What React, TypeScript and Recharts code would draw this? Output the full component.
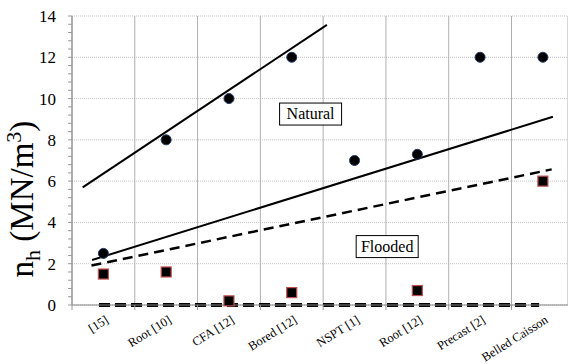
import {
  ComposedChart,
  Line,
  Scatter,
  XAxis,
  YAxis,
  CartesianGrid,
  ReferenceDot,
} from 'recharts'

const categories = ['[15]', 'Root [10]', 'CFA [12]', 'Bored [12]', 'NSPT [1]', 'Root [12]', 'Precast [2]', 'Belled Caisson']
const categoryPos = [0.5, 1.5, 2.5, 3.5, 4.5, 5.5, 6.5, 7.5]
const naturalValues = [2.5, 8, 10, 12, 7, 7.3, 12, 12]
const floodedValues: (number | null)[] = [1.5, 1.6, 0.2, 0.6, null, 0.7, null, 6]

// trend lines, [start, end]
const upperFitX = [0.17, 4.06]
const upperFitY = [5.7, 13.57]
const naturalFitX = [0.32, 7.66]
const naturalFitY = [2.18, 9.12]
const floodedFitX = [0.31, 7.64]
const floodedFitY = [1.91, 6.57]
const zeroFitX = [0.43, 7.44]
const zeroFitY = [0, 0]

const yTicks = [0, 2, 4, 6, 8, 10, 12, 14]
const minorTicks = Array.from({ length: 71 }, (_, i) => Math.round(i * 2) / 10)
const gridTicks = [0, 1, 2, 3, 4, 5, 6, 7]

const boxLabels = ['Natural', 'Flooded']
const boxX = [3.8, 5.02]
const boxY = [9.25, 2.83]

const FONT = 'Liberation Serif'
const fontStyle = { fontFamily: FONT }

const pts = (xs: number[], ys: (number | null)[]) =>
  xs.map((x, i) => ({ x, y: ys[i] })).filter((p) => p.y !== null)

const naturalData = pts(categoryPos, naturalValues)
const floodedData = pts(categoryPos, floodedValues)

const XTick = (props: any) => {
  const { x, y, payload } = props
  const i = categoryPos.indexOf(payload.value)
  return (
    <g transform={`translate(${x + 6},${y + 8})`}>
      <text textAnchor="end" transform="rotate(-32)" fontSize={12.5} style={fontStyle} fill="#000">
        {categories[i]}
      </text>
    </g>
  )
}

const YTick = (props: any) => {
  const { x, y, payload } = props
  return (
    <text x={x} y={y + 6} textAnchor="end" fontSize={17} style={fontStyle} fill="#000">
      {payload.value}
    </text>
  )
}

const YLabel = () => (
  <text transform="translate(33,199) rotate(-90)" textAnchor="middle" fontSize={33} style={fontStyle} fill="#000">
    <tspan>n</tspan>
    <tspan fontSize={22} dy={7}>h</tspan>
    <tspan dy={-7}> (MN/m</tspan>
    <tspan fontSize={22} dy={-12}>3</tspan>
    <tspan dy={12}>)</tspan>
  </text>
)

const Circle = (p: any) => <circle cx={p.cx} cy={p.cy} r={5} fill="#000" stroke="#1f3864" strokeWidth={1} />
const Square = (p: any) => (
  <rect x={p.cx - 5} y={p.cy - 5} width={10} height={10} fill="#000" stroke="#c0504d" strokeWidth={1.2} />
)

export default function App() {
  return (
    <div style={{ position: 'absolute', left: 0, top: 0, background: '#fff', fontFamily: FONT }}>
      <ComposedChart width={568} height={364} margin={{ top: 16, right: 0, bottom: 0, left: 0 }}>
        <CartesianGrid horizontal={true} vertical={false} xAxisId="labels" yAxisId="main" stroke="#c4c4c4" strokeDasharray="1 1" />
        <CartesianGrid horizontal={false} vertical={true} stroke="#b0b0b0" />
        {/* axis 0: gridline / tick positions, sits on the plot edge */}
        <XAxis
          type="number"
          dataKey="x"
          domain={[0, 7.9]}
          ticks={gridTicks}
          height={1}
          tickFormatter={() => ''}
          tickSize={5}
          tickLine={{ stroke: '#999' }}
          axisLine={{ stroke: '#868686' }}
        />
        <XAxis
          xAxisId="labels"
          type="number"
          dataKey="x"
          domain={[0, 7.9]}
          ticks={categoryPos}
          height={58}
          tickLine={false}
          tick={<XTick />}
          axisLine={false}
        />
        <YAxis
          type="number"
          domain={[0, 14]}
          ticks={minorTicks}
          width={1}
          tickFormatter={() => ''}
          tickSize={4}
          tickLine={{ stroke: '#999' }}
          axisLine={{ stroke: '#868686' }}
        />
        <YAxis
          yAxisId="main"
          type="number"
          domain={[0, 14]}
          ticks={yTicks}
          width={71}
          tickSize={0}
          tickMargin={15}
          tickLine={false}
          axisLine={false}
          tick={<YTick />}
          label={<YLabel />}
        />
        <Line data={pts(zeroFitX, zeroFitY)} dataKey="y" stroke="#000" strokeWidth={4} strokeDasharray="11 5" dot={false} isAnimationActive={false} />
        <Line data={pts(upperFitX, upperFitY)} dataKey="y" stroke="#000" strokeWidth={2} dot={false} isAnimationActive={false} />
        <Line data={pts(naturalFitX, naturalFitY)} dataKey="y" stroke="#000" strokeWidth={2} dot={false} isAnimationActive={false} />
        <Line data={pts(floodedFitX, floodedFitY)} dataKey="y" stroke="#000" strokeWidth={2.5} strokeDasharray="10 6" dot={false} isAnimationActive={false} />
        <Scatter data={naturalData} xAxisId="labels" yAxisId="main" dataKey="y" shape={Circle} isAnimationActive={false} />
        <Scatter data={floodedData} xAxisId="labels" yAxisId="main" dataKey="y" shape={Square} isAnimationActive={false} />
        {boxLabels.map((label, i) => (
          <ReferenceDot
            key={label}
            x={boxX[i]}
            y={boxY[i]}
            r={1}
            shape={(p: any) => (
              <g>
                <rect x={p.cx - 31} y={p.cy - 11} width={62} height={22} fill="#fff" stroke="#000" strokeWidth={1} />
                <text x={p.cx} y={p.cy + 5} textAnchor="middle" fontSize={16} style={fontStyle} fill="#000">
                  {label}
                </text>
              </g>
            )}
          />
        ))}
      </ComposedChart>
    </div>
  )
}
